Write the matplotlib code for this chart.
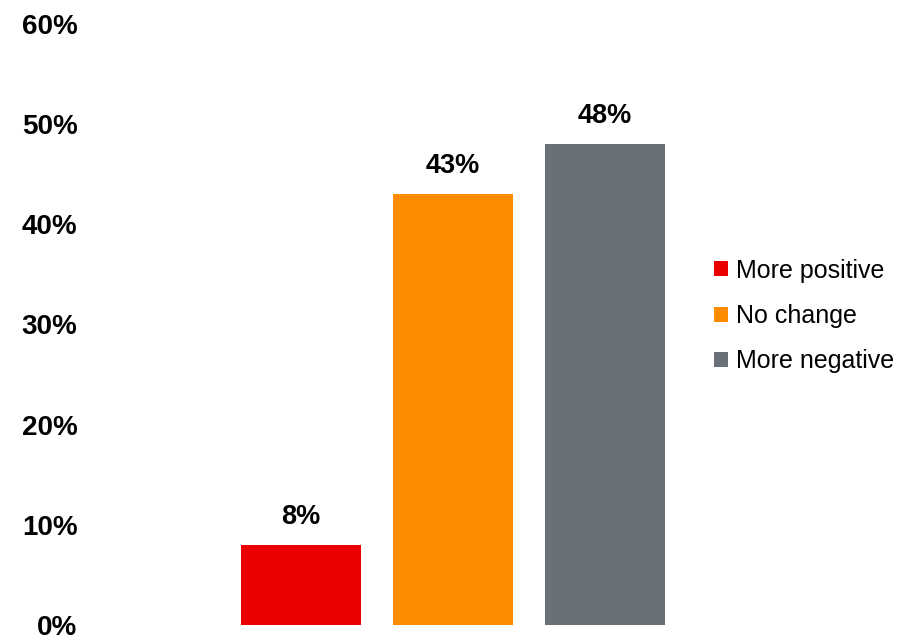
import numpy as np
import matplotlib.pyplot as plt
from matplotlib.patches import Patch

plt.rcParams['font.family'] = ['Liberation Sans', 'DejaVu Sans']

# Survey shares by response
categories = ['More positive', 'No change', 'More negative']
values = [8, 43, 48]
colors = ['#EB0000', '#FF8C00', '#697078']
y_ticks = [0, 10, 20, 30, 40, 50, 60]

fig = plt.figure(figsize=(9.24, 6.38), dpi=100)
W, H = 924, 638
ax = fig.add_axes([90 / W, 13 / H, 610 / W, 601 / H])

x = np.arange(len(categories))
bars = ax.bar(x, values, width=120 / 152, color=colors)

for xi, v in zip(x, values):
    ax.annotate(f'{v}%', (xi, v), xytext=(0, 28), textcoords='offset pixels',
                ha='center', va='center', fontsize=19.5, fontweight='bold')

ax.set_xlim((90 - 301) / 152, (700 - 301) / 152)
ax.set_ylim(0, 60)
ax.set_yticks(y_ticks)
ax.set_yticklabels([f'{t}%' for t in y_ticks], fontsize=20, fontweight='bold')
ax.tick_params(axis='y', length=0, pad=9)
ax.set_xticks([])
for s in ax.spines.values():
    s.set_visible(False)

handles = [Patch(facecolor=c, label=l) for c, l in zip(colors, categories)]
fig.legend(handles=handles, loc='center left', bbox_to_anchor=(714 / W, 1 - 316 / H),
           frameon=False, fontsize=18, handlelength=0.55, handleheight=0.55,
           handletextpad=0.35, labelspacing=0.85, borderaxespad=0, borderpad=0)

fig.savefig('out.png', dpi=100)
